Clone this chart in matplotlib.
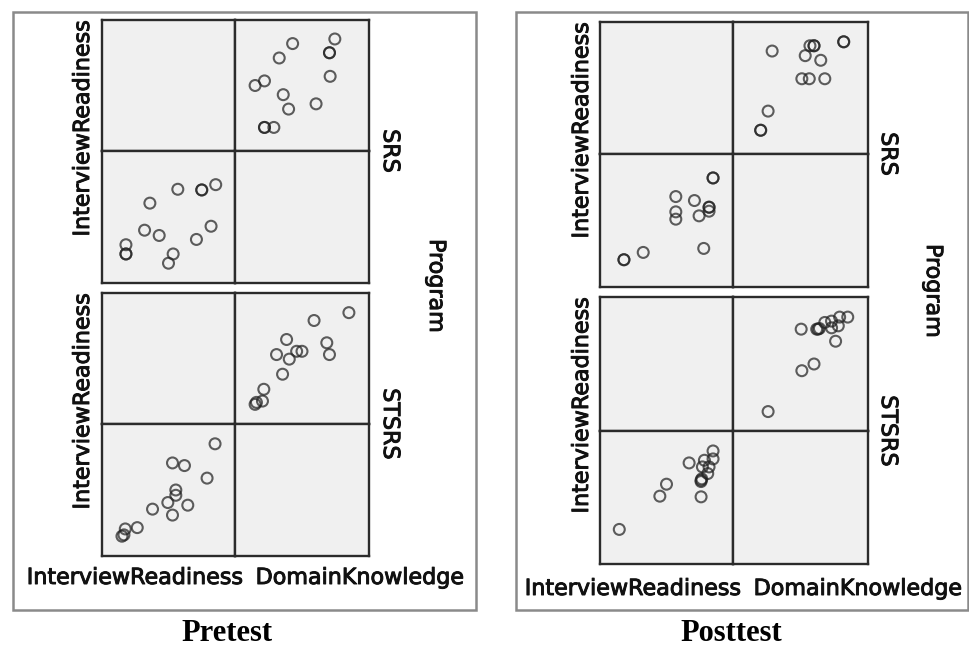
import matplotlib
matplotlib.use("Agg")
import matplotlib.pyplot as plt
import matplotlib.patheffects as pe
from matplotlib.patches import Rectangle

W, H = 970, 647

variables = ["InterviewReadiness", "DomainKnowledge"]
programs = ["SRS", "STSRS"]
titles = ["Pretest", "Posttest"]

# scores per subject (0-100 scale), pretest
pre_srs_ir = [85.5, 75, 75, 82, 71, 57, 50, 53.5, 43, 32, 36, 18, 18, 18]
pre_srs_dk = [74.5, 70.5, 70.5, 43, 33, 71, 15, 22, 36, 40, 60.5, 22, 22, 29]
pre_stsrs_ir = [85, 79, 64.5, 62, 53, 53, 49.5, 55.5, 55.5, 38, 26.5, 17.5, 15, 16.5]
pre_stsrs_dk = [85, 59, 38.5, 68.5, 70.5, 31, 40.5, 46, 50, 35.5, 21.5, 20.5, 15, 16]

# posttest
post_srs_ir = [85, 85, 78, 82, 82, 82, 74.5, 71, 57, 57, 57, 32.5, 18, 18]
post_srs_dk = [82, 82, 29, 57, 60, 60, 53.5, 65, 51, 56.5, 68, 26, 20.5, 20.5]
post_stsrs_ir = [85, 85, 82, 78.5, 81, 76.5, 76, 77, 76, 67, 50, 45, 14.5, 76]
post_stsrs_dk = [85, 79, 73, 78, 68, 64, 62, 73, 50.5, 76, 60, 51, 26, 63]

score_lim = (0, 100)

data = {
    ("Pretest", "SRS"): (pre_srs_ir, pre_srs_dk),
    ("Pretest", "STSRS"): (pre_stsrs_ir, pre_stsrs_dk),
    ("Posttest", "SRS"): (post_srs_ir, post_srs_dk),
    ("Posttest", "STSRS"): (post_stsrs_ir, post_stsrs_dk),
}

# pixel layout of each chart: frame, panel x edges, panel y edges per program
layout = {
    "Pretest": dict(frame=(13, 12, 476, 610), xs=(102, 235, 369),
                    rows=[(20, 151, 283), (293, 424, 556)],
                    ylab_x=83, xlab_y=578, xlab_cx=(135, 360),
                    prog_x=390, program_xy=(436, 286), title_xy=(227, 641)),
    "Posttest": dict(frame=(516, 12, 968, 610), xs=(600, 733, 868),
                     rows=[(22, 154, 287), (297, 431, 564)],
                     ylab_x=582, xlab_y=589, xlab_cx=(633, 858),
                     prog_x=888, program_xy=(933, 291), title_xy=(731, 641)),
}

fig = plt.figure(figsize=(W / 100, H / 100), dpi=100)
fig.patch.set_facecolor("white")

def fx(x):
    return x / W

def fy(y):
    return 1 - y / H

def add_cell(x0, x1, y0, y1):
    ax = fig.add_axes([fx(x0), fy(y1), (x1 - x0) / W, (y1 - y0) / H])
    ax.set_facecolor("#f0f0f0")
    ax.set_xticks([])
    ax.set_yticks([])
    for s in ax.spines.values():
        s.set_color("#2b2b2b")
        s.set_linewidth(1.7)
    ax.set_xlim(*score_lim)
    ax.set_ylim(*score_lim)
    return ax

# slightly heavier strokes, like the original export
thick = [pe.withStroke(linewidth=0.7, foreground="#111111")]
label_font = dict(family="DejaVu Sans", fontsize=16, color="#111111",
                  path_effects=thick)
mk = dict(marker="o", s=62, facecolors="none", edgecolors="#222222",
          linewidths=1.5, alpha=0.72)

for t in titles:
    L = layout[t]
    x0, y0, x1, y1 = L["frame"]
    fig.add_artist(Rectangle((fx(x0), fy(y1)), (x1 - x0) / W, (y1 - y0) / H,
                             transform=fig.transFigure, fill=False,
                             edgecolor="#8a8a8a", linewidth=1.8))
    xa, xm, xb = L["xs"]
    for prog, (ya, ym, yb) in zip(programs, L["rows"]):
        ir, dk = data[(t, prog)]
        add_cell(xa, xm, ya, ym)                     # diagonal, empty
        ur = add_cell(xm, xb, ya, ym)                # x = DK, y = IR
        ur.scatter(dk, ir, **mk)
        ll = add_cell(xa, xm, ym, yb)                # x = IR, y = DK
        ll.scatter(ir, dk, **mk)
        add_cell(xm, xb, ym, yb)                     # diagonal, empty

        fig.text(fx(L["ylab_x"]), fy(ya), variables[0], rotation=90,
                 ha="center", va="top", **label_font)
        fig.text(fx(L["prog_x"]), fy(ym), prog, rotation=-90,
                 ha="center", va="center", **label_font)

    for name, cx in zip(variables, L["xlab_cx"]):
        fig.text(fx(cx), fy(L["xlab_y"]), name, ha="center", va="center",
                 **label_font)
    px, py = L["program_xy"]
    fig.text(fx(px), fy(py), "Program", rotation=-90, ha="center",
             va="center", **label_font)
    tx, ty = L["title_xy"]
    fig.text(fx(tx), fy(ty), t, ha="center", va="baseline",
             family="Liberation Serif", fontweight="bold", fontsize=22)

fig.savefig("out.png", dpi=100)
